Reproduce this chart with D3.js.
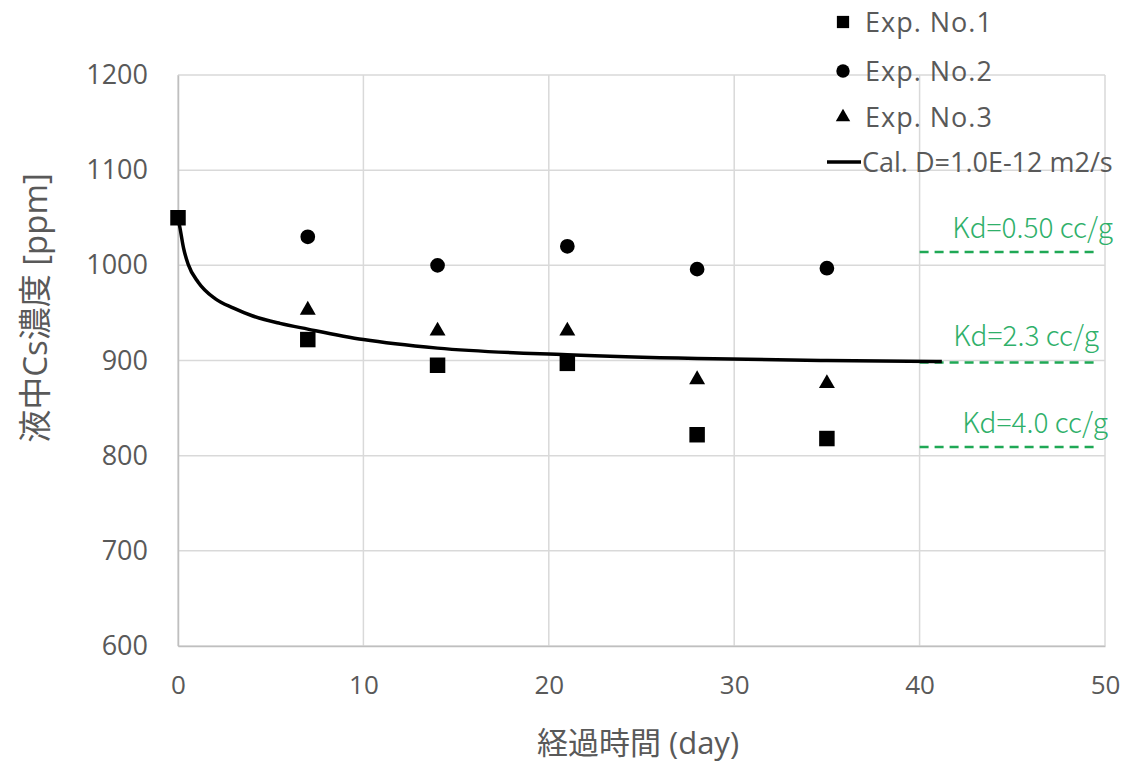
<!DOCTYPE html>
<html>
<head>
<meta charset="utf-8">
<script src="https://cdn.jsdelivr.net/npm/d3@7"></script>
<style>
  html, body { margin: 0; padding: 0; background: #fff; }
  svg { display: block; }
  text { font-family: "Open Sans", "Noto Sans CJK JP", sans-serif; }
</style>
</head>
<body>
<svg id="chart" width="1143" height="765"></svg>
<script>
// Sampling days
const days = [0, 7, 14, 21, 28, 35];
// Measured Cs concentration in solution (ppm)
const exp1 = [1050, 922, 895, 897, 822, 818];
const exp2 = [null, 1030, 1000, 1020, 996, 997];
const exp3 = [null, 953, 931, 931, 880, 876];

// Calculated curve, D = 1.0E-12 m2/s (day, ppm)
const calDays = [0, 0.1, 0.3, 0.55, 1.1, 2, 3, 4, 5.5, 7, 10, 14, 21, 28, 35, 41.2];
const calPpm  = [1050, 1040, 1018, 1001, 982, 965, 955, 947, 939, 933, 922, 913, 906, 902, 900, 899];

// Equilibrium levels for given Kd
const kdLabels = ["Kd=0.50 cc/g", "Kd=2.3 cc/g", "Kd=4.0 cc/g"];
const kdPpm = [1014, 898, 809];
const kdRange = [40, 49.6];

const xTicks = [0, 10, 20, 30, 40, 50];
const yTicks = [600, 700, 800, 900, 1000, 1100, 1200];

const legendLabels = ["Exp. No.1", "Exp. No.2", "Exp. No.3", "Cal. D=1.0E-12 m2/s"];

const svg = d3.select("#chart");
const x = d3.scaleLinear().domain([0, 50]).range([178, 1105]);
const y = d3.scaleLinear().domain([600, 1200]).range([646, 75]);

const gridColor = "#d9d9d9";
const textColor = "#595959";
const green = "#2fb06a";

// Gridlines
svg.append("g").selectAll("line").data(xTicks).join("line")
  .attr("x1", d => x(d)).attr("x2", d => x(d))
  .attr("y1", y(1200)).attr("y2", y(600))
  .attr("stroke", gridColor).attr("stroke-width", 1.5);
svg.append("g").selectAll("line").data(yTicks).join("line")
  .attr("x1", x(0)).attr("x2", x(50))
  .attr("y1", d => y(d)).attr("y2", d => y(d))
  .attr("stroke", gridColor).attr("stroke-width", 1.5);

// Axes (labels only; lines come from the grid)
const xAxis = svg.append("g").attr("transform", `translate(0,${y(600)})`)
  .call(d3.axisBottom(x).tickValues(xTicks).tickFormat(d3.format("d")).tickSize(0).tickPadding(30));
xAxis.select(".domain").attr("stroke", "#bfbfbf").attr("stroke-width", 1.5);
xAxis.selectAll("text").style("font-size", "26px").style("fill", textColor);

const yAxis = svg.append("g").attr("transform", `translate(${x(0)},0)`)
  .call(d3.axisLeft(y).tickValues(yTicks).tickFormat(d3.format("d")).tickSize(0).tickPadding(30));
yAxis.select(".domain").attr("stroke", "#bfbfbf").attr("stroke-width", 1.5);
yAxis.selectAll("text").style("font-size", "27px").style("fill", textColor);

// Axis titles
svg.append("text").attr("x", 638).attr("y", 754).attr("text-anchor", "middle")
  .style("font-size", "31px").style("fill", textColor).text("経過時間 (day)");
svg.append("text").attr("transform", "translate(47,308) rotate(-90)")
  .attr("text-anchor", "middle").style("font-size", "33px").style("fill", textColor)
  .text("液中Cs濃度 [ppm]");

// Kd reference lines
kdPpm.forEach(v => {
  svg.append("line")
    .attr("x1", x(kdRange[0])).attr("x2", x(kdRange[1]))
    .attr("y1", y(v)).attr("y2", y(v))
    .attr("stroke", "#1fa855").attr("stroke-width", 2.5)
    .attr("stroke-dasharray", "9,6");
});
const kdLabelPos = [[1113, 238], [1099, 346], [1108, 433]];
kdLabels.forEach((t, i) => {
  svg.append("text").attr("x", kdLabelPos[i][0]).attr("y", kdLabelPos[i][1])
    .attr("text-anchor", "end")
    .style("font-family", "'Noto Sans CJK JP', sans-serif")
    .style("font-weight", 300)
    .style("font-size", "28px").style("fill", green).text(t);
});

// Calculated curve
const calData = calDays.map((d, i) => [d, calPpm[i]]);
svg.append("path").datum(calData)
  .attr("fill", "none").attr("stroke", "#000").attr("stroke-width", 3.5)
  .attr("d", d3.line().x(d => x(d[0])).y(d => y(d[1])).curve(d3.curveMonotoneX));

// Markers
const sq = d3.symbol().type(d3.symbolSquare).size(240);
const ci = d3.symbol().type(d3.symbolCircle).size(170);
const tr = d3.symbol().type(d3.symbolTriangle).size(110);

function drawSeries(vals, sym) {
  const pts = days.map((d, i) => [d, vals[i]]).filter(p => p[1] != null);
  svg.append("g").selectAll("path").data(pts).join("path")
    .attr("transform", p => `translate(${x(p[0])},${y(p[1])})`)
    .attr("d", sym).attr("fill", "#000");
}
drawSeries(exp1, sq);
drawSeries(exp2, ci);
drawSeries(exp3, tr);

// Legend
const legY = [22, 71, 117, 162];
const legSyms = [
  d3.symbol().type(d3.symbolSquare).size(150),
  d3.symbol().type(d3.symbolCircle).size(140),
  d3.symbol().type(d3.symbolTriangle).size(90)
];
legSyms.forEach((s, i) => {
  svg.append("path").attr("transform", `translate(843,${legY[i]})`).attr("d", s).attr("fill", "#000");
});
svg.append("line").attr("x1", 827).attr("x2", 861).attr("y1", legY[3]).attr("y2", legY[3])
  .attr("stroke", "#000").attr("stroke-width", 3.5);
legendLabels.forEach((t, i) => {
  svg.append("text").attr("x", i === 3 ? 862 : 865).attr("y", legY[i]).attr("dy", "0.36em")
    .style("font-size", "27px").style("fill", textColor)
    .style("letter-spacing", i === 3 ? "0px" : "1px").text(t);
});
</script>
</body>
</html>
